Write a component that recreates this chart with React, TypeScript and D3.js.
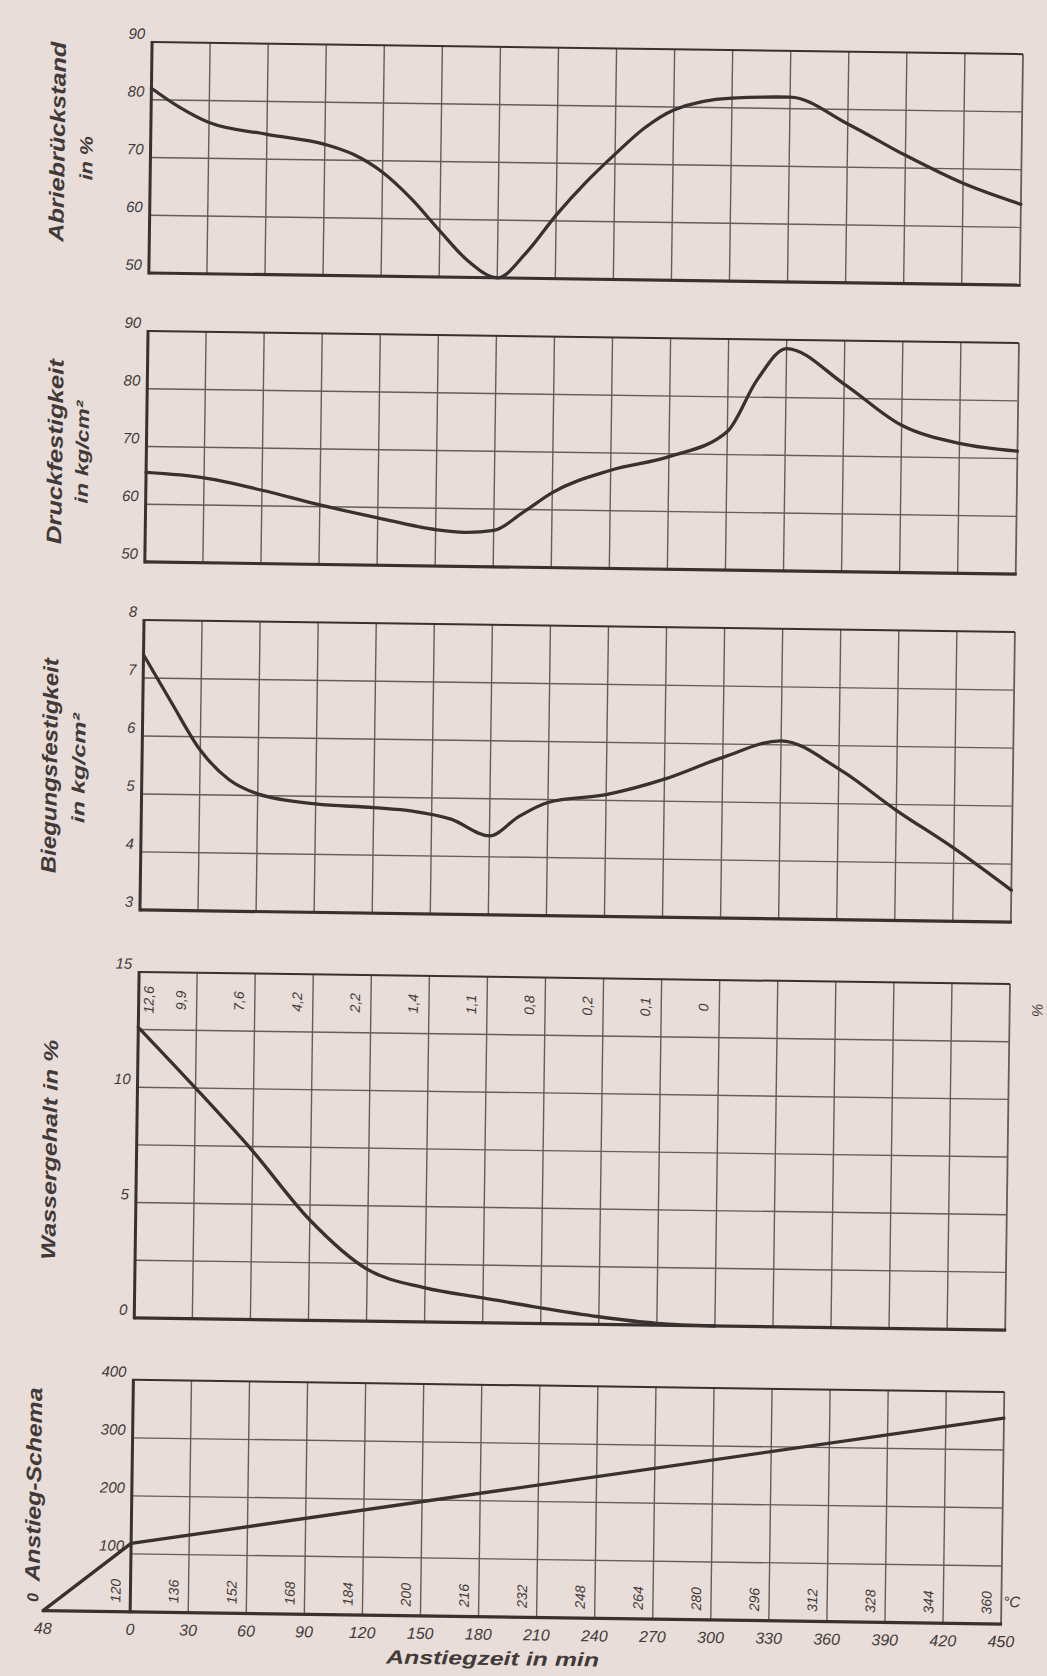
import React, { useEffect, useRef } from 'react';
import * as d3 from 'd3';

// Zeitachse: Anstiegzeit in min, Gitter alle 30 min
const minuteTicks = [0, 30, 60, 90, 120, 150, 180, 210, 240, 270, 300, 330, 360, 390, 420, 450];
const minuteLabels = ['0', '30', '60', '90', '120', '150', '180', '210', '240', '270', '300', '330', '360', '390', '420', '450'];

// Abriebrückstand in %
const abriebTime = [0, 15, 30, 60, 90, 105, 120, 135, 150, 165, 180, 195, 210, 225, 240, 255, 270, 300, 330, 360, 390, 420, 450];
const abriebValue = [82, 78.7, 76.2, 74.3, 72.7, 71, 68, 63.5, 58, 52.8, 50, 54.5, 61, 66.7, 71.7, 76.3, 79.5, 81.7, 82, 77.5, 72.2, 67.5, 64];

// Druckfestigkeit in kg/cm²
const druckTime = [0, 30, 60, 90, 120, 150, 165, 180, 195, 210, 240, 270, 300, 315, 330, 360, 390, 420, 450];
const druckValue = [65.5, 64.7, 62.7, 60.3, 58.2, 56.3, 55.9, 56.3, 59.5, 63, 67, 69.5, 74, 83, 88.5, 82.5, 75.5, 72.5, 71.3];

// Biegungsfestigkeit in kg/cm²
const biegTime = [0, 15, 30, 45, 60, 90, 120, 140, 160, 180, 195, 210, 240, 270, 300, 330, 360, 390, 420, 450];
const biegValue = [7.4, 6.57, 5.77, 5.27, 5.03, 4.87, 4.82, 4.77, 4.64, 4.36, 4.7, 4.95, 5.1, 5.38, 5.77, 6.07, 5.6, 4.9, 4.26, 3.55];

// Wassergehalt in % (Kurve und Werte im Kopfstreifen)
const waterTime = [0, 30, 60, 90, 120, 150, 180, 210, 240, 270, 300];
const waterValue = [12.6, 10, 7.3, 4.35, 2.25, 1.48, 1.08, 0.68, 0.33, 0.08, 0];
const waterLabels = ['12,6', '9,9', '7,6', '4,2', '2,2', '1,4', '1,1', '0,8', '0,2', '0,1', '0'];

// Anstieg-Schema (°C)
const rampTime = [-45, 0, 450];
const rampTemp = [0, 118, 355];
const tempLabels = ['120', '136', '152', '168', '184', '200', '216', '232', '248', '264', '280', '296', '312', '328', '344', '360'];
const preTimeLabel = '48';

const PAPER = '#e8ddd8';
const GRID = '#645d5b';
const INK = '#383130';
const TEXT = '#413a38';
const FONT = "'Liberation Sans', Arial, sans-serif";

const LEFT = 141;
const RIGHT = 1012;

const panels = [
  {
    top: 48, bottom: 279, domain: [50, 90], grid: [50, 60, 70, 80, 90], labels: [50, 60, 70, 80, 90],
    t: abriebTime, v: abriebValue,
    titles: [
      { text: 'Abriebrückstand', x: 55, y: 149, len: 200, size: 21 },
      { text: 'in %', x: 83, y: 165, len: 44, size: 18 },
    ],
  },
  {
    top: 337, bottom: 568, domain: [50, 90], grid: [50, 60, 70, 80, 90], labels: [50, 60, 70, 80, 90],
    t: druckTime, v: druckValue,
    titles: [
      { text: 'Druckfestigkeit', x: 57, y: 459, len: 185, size: 21 },
      { text: 'in kg/cm²', x: 83, y: 459, len: 103, size: 18 },
    ],
  },
  {
    top: 626, bottom: 916, domain: [3, 8], grid: [3, 4, 5, 6, 7, 8], labels: [3, 4, 5, 6, 7, 8],
    t: biegTime, v: biegValue,
    titles: [
      { text: 'Biegungsfestigkeit', x: 56, y: 773, len: 215, size: 21 },
      { text: 'in kg/cm²', x: 84, y: 775, len: 110, size: 18 },
    ],
  },
  {
    top: 978, bottom: 1324, domain: [0, 15], grid: [0, 2.5, 5, 7.5, 10, 12.5, 15], labels: [0, 5, 10, 15],
    t: waterTime, v: waterValue,
    titles: [
      { text: 'Wassergehalt in %', x: 61, y: 1157, len: 220, size: 20 },
    ],
  },
  {
    top: 1386, bottom: 1618, domain: [0, 400], grid: [0, 100, 200, 300, 400], labels: [100, 200, 300, 400],
    t: rampTime, v: rampTemp,
    titles: [
      { text: 'Anstieg-Schema', x: 50, y: 1492, len: 194, size: 21 },
    ],
  },
];

function App() {
  const ref = useRef<SVGSVGElement>(null);

  useEffect(() => {
    const svg = d3.select(ref.current);
    svg.selectAll('*').remove();

    svg.append('rect').attr('width', 1047).attr('height', 1676).attr('fill', PAPER);

    // Scan ist leicht verdreht
    const g = svg.append('g').attr('transform', 'rotate(0.8 576 838)');

    const x = d3.scaleLinear().domain([0, 450]).range([LEFT, RIGHT]);

    const vText = (
      parent: any, px: number, py: number, text: string, size: number,
      weight = 'normal', len?: number
    ) => {
      const t = parent.append('text')
        .attr('transform', `translate(${px},${py}) rotate(-90)`)
        .attr('text-anchor', 'middle')
        .attr('font-family', FONT)
        .attr('font-style', 'italic')
        .attr('font-weight', weight)
        .attr('font-size', size)
        .attr('fill', TEXT)
        .text(text);
      if (len) t.attr('textLength', len).attr('lengthAdjust', 'spacingAndGlyphs');
      return t;
    };

    panels.forEach((p, i) => {
      const y = d3.scaleLinear().domain(p.domain).range([p.bottom, p.top]);
      const pg = g.append('g');
      const isRamp = i === 4;

      // vertikales Gitter
      pg.append('g').selectAll('line').data(minuteTicks.slice(1)).join('line')
        .attr('x1', d => x(d)).attr('x2', d => x(d))
        .attr('y1', p.top).attr('y2', p.bottom)
        .attr('stroke', GRID).attr('stroke-width', d => (d === 450 ? 1.8 : 1.4));

      // horizontales Gitter
      pg.append('g').selectAll('line')
        .data(p.grid.filter(v => v !== p.domain[0]))
        .join('line')
        .attr('x1', LEFT).attr('x2', RIGHT)
        .attr('y1', d => y(d)).attr('y2', d => y(d))
        .attr('stroke', d => (d === p.domain[1] ? INK : GRID))
        .attr('stroke-width', d => (d === p.domain[1] ? 2 : 1.4));

      // Achsen
      pg.append('line')
        .attr('x1', isRamp ? x(rampTime[0]) : LEFT).attr('x2', RIGHT + 1)
        .attr('y1', y(p.domain[0])).attr('y2', y(p.domain[0]))
        .attr('stroke', INK).attr('stroke-width', 3.2);
      pg.append('line')
        .attr('x1', LEFT).attr('x2', LEFT)
        .attr('y1', p.top - 1).attr('y2', p.bottom + 1.5)
        .attr('stroke', INK).attr('stroke-width', 3);

      // y-Beschriftung
      pg.append('g').selectAll('text').data(p.labels).join('text')
        .attr('x', LEFT - 7).attr('y', d => y(d) - 3)
        .attr('text-anchor', 'end')
        .attr('font-family', FONT).attr('font-style', 'italic')
        .attr('font-size', 15).attr('fill', TEXT)
        .text(d => String(d));

      // Titel
      p.titles.forEach(tt => {
        vText(pg, tt.x, tt.y, tt.text, tt.size, 'bold', tt.len);
      });

      // Kurve
      const line = d3.line<number>()
        .x((_, k) => x(p.t[k]))
        .y(d => y(d))
        .curve(isRamp ? d3.curveLinear : d3.curveMonotoneX);

      pg.append('path')
        .datum(p.v)
        .attr('fill', 'none')
        .attr('stroke', INK)
        .attr('stroke-width', 3.3)
        .attr('stroke-linejoin', 'round')
        .attr('stroke-linecap', 'round')
        .attr('d', line);

      if (i === 3) {
        // Wassergehalt-Werte im oberen Streifen
        const bandY = (y(15) + y(12.5)) / 2 - 1;
        waterTime.forEach((t, k) => {
          const lx = t === 0 ? x(t) + 15 : x(t) - 11;
          vText(pg, lx, bandY, waterLabels[k], 14);
        });
        vText(pg, 1045, 1004, '%', 15);
      }

      if (isRamp) {
        // Temperaturen je Zeitschritt
        minuteTicks.forEach((t, k) => {
          vText(pg, x(t) - 10, 1597, tempLabels[k], 14);
        });
        pg.append('text')
          .attr('x', 1014).attr('y', 1601)
          .attr('font-family', FONT).attr('font-style', 'italic')
          .attr('font-size', 15).attr('fill', TEXT)
          .text('°C');

        // Zeitachse
        const xl = pg.append('g');
        xl.selectAll('text').data(minuteTicks).join('text')
          .attr('x', d => x(d)).attr('y', 1641)
          .attr('text-anchor', 'middle')
          .attr('font-family', FONT).attr('font-style', 'italic')
          .attr('font-size', 16).attr('fill', TEXT)
          .text((_, k) => minuteLabels[k]);
        xl.append('text')
          .attr('x', x(rampTime[0])).attr('y', 1641)
          .attr('text-anchor', 'middle')
          .attr('font-family', FONT).attr('font-style', 'italic')
          .attr('font-size', 16).attr('fill', TEXT)
          .text(preTimeLabel);
        vText(pg, x(rampTime[0]) - 5, 1605, '0', 16, 'bold');

        pg.append('text')
          .attr('x', 504).attr('y', 1666)
          .attr('text-anchor', 'middle')
          .attr('font-family', FONT).attr('font-style', 'italic')
          .attr('font-weight', 'bold').attr('font-size', 19)
          .attr('fill', TEXT)
          .attr('textLength', 213).attr('lengthAdjust', 'spacingAndGlyphs')
          .text('Anstiegzeit in min');
      }
    });
  }, []);

  return (
    <>
      <style>{`body{margin:0;background:${PAPER}}`}</style>
      <svg ref={ref} width={1047} height={1676} style={{ display: 'block' }} />
    </>
  );
}

export default App;
